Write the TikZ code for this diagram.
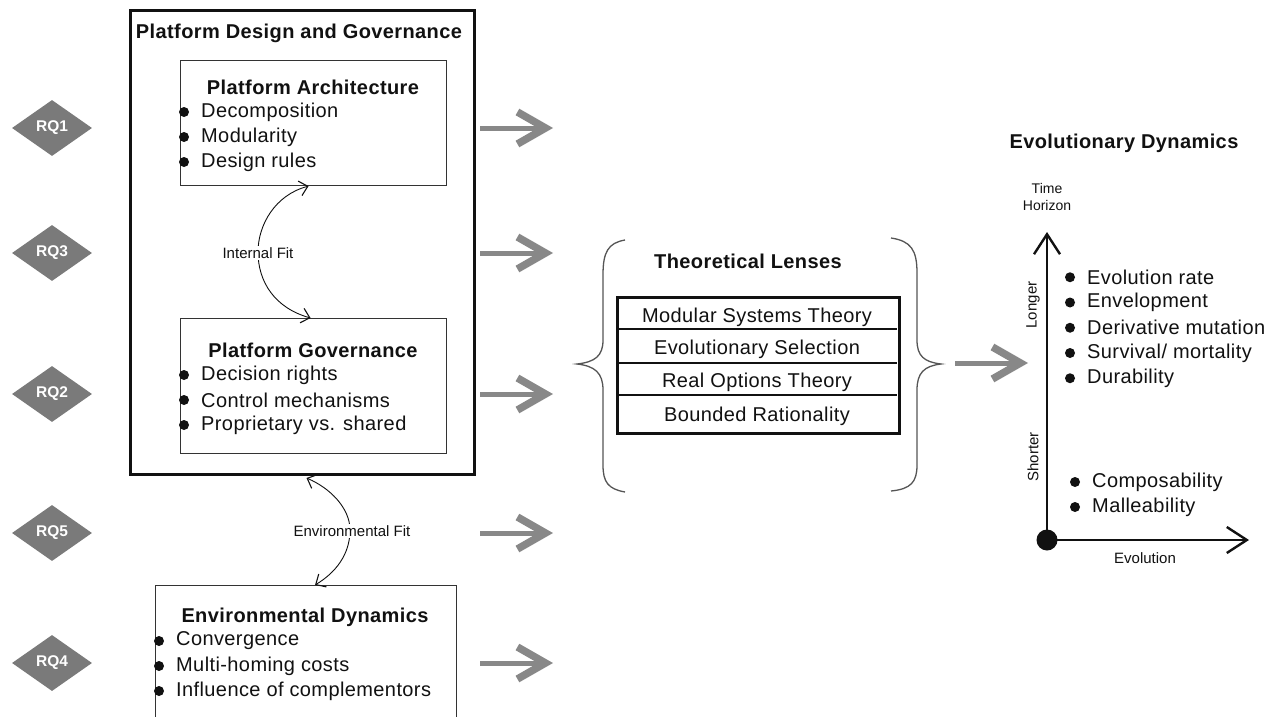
\documentclass[tikz,border=0pt]{standalone}
\usepackage{fontspec}
\setmainfont{Liberation Sans}[LetterSpace=2]
\newfontfamily\plainsf{Liberation Sans}
\usetikzlibrary{arrows.meta,shapes.geometric,calc}
\definecolor{ink}{HTML}{111111}
\definecolor{rqgray}{HTML}{7A7A7A}
\definecolor{flowgray}{HTML}{888888}
\definecolor{framegray}{HTML}{333333}
\definecolor{bracegray}{HTML}{555555}

\begin{document}
\begin{tikzpicture}[x=1pt,y=-1pt,
  body/.style={font=\fontsize{20}{24}\selectfont, text=ink, inner sep=0pt},
  head/.style={font=\fontsize{20}{24}\selectfont\bfseries, text=ink, inner sep=0pt},
  small/.style={font=\plainsf\fontsize{15}{18}\selectfont, text=ink, inner sep=1pt},
  panel/.style={draw=framegray, line width=1.1pt},
  rq/.style={shape=diamond, fill=rqgray, minimum width=80pt, minimum height=56pt,
    inner sep=0pt, text=white, font=\plainsf\bfseries\fontsize{15.5}{17}\selectfont},
  flow/.style={draw=flowgray, line width=5pt,
    -{Straight Barb[length=28pt,width=32pt,line width=7.5pt]}},
  fitarrow/.style={draw=ink, line width=0.9pt,
    {Straight Barb[length=8pt,width=15pt,line width=1.1pt]}-{Straight Barb[length=8pt,width=15pt,line width=1.1pt]}},
  axis/.style={draw=ink, line width=2pt, -{Straight Barb[length=20pt,width=26pt,line width=2.4pt]}},
  bullet/.style={circle, fill=ink, minimum size=10pt, inner sep=0pt},
]
\clip (0,0) rectangle (1271,717);
\fill[white] (0,0) rectangle (1271,717);

% ---------- platform design and governance ----------
\node[draw=ink, line width=3pt, minimum width=344pt, minimum height=464pt,
  anchor=north west] (pdg) at (129,9) {};
\node[head] (pdg-title) at (299,33) {Platform Design and Governance};

\node[panel, minimum width=266pt, minimum height=125pt, anchor=north west] (arch) at (180,60) {};
\node[head] (arch-title) at (313,87) {Platform Architecture};
\foreach \txt [count=\i] in {Decomposition, Modularity, Design rules} {
  \node[bullet] (arch-dot-\i) at (184,87+25*\i) {};
  \node[body, anchor=west] (arch-\i) at (201,87+25*\i) {\txt};
}

\node[panel, minimum width=266pt, minimum height=135pt, anchor=north west] (gov) at (180,318) {};
\node[head] (gov-title) at (313,350) {Platform Governance};
\foreach \txt [count=\i] in {Decision rights, Control mechanisms, Proprietary vs. shared} {
  \node[bullet] (gov-dot-\i) at (184,350+25*\i) {};
  \node[body, anchor=west] (gov-\i) at (201,350+25*\i) {\txt};
}

% internal fit
\draw[fitarrow] ($(arch.south)+(-5,0)$) .. controls (275,195) and (258,225) .. (258,252)
  .. controls (258,282) and (275,308) .. ($(gov.north)+(-3,0)$);
\node[small, fill=white] (ifit) at (258,253) {Internal Fit};

% ---------- environmental dynamics ----------
\node[panel, minimum width=301pt, minimum height=150pt, anchor=north west] (env) at (155,585) {};
\node[head] (env-title) at (305,617) {Environmental Dynamics};
\foreach \txt [count=\i] in {Convergence, Multi-homing costs, Influence of complementors} {
  \node[bullet] (env-dot-\i) at (159,616+25*\i) {};
  \node[body, anchor=west] (env-\i) at (176,616+25*\i) {\txt};
}

% environmental fit
\draw[fitarrow] ($(pdg.south)+(4,2)$) .. controls (330,488) and (350,508) .. (350,530)
  .. controls (350,555) and (335,573) .. ($(env.north)+(9,0)$);
\node[small, fill=white] (efit) at (352,531) {Environmental Fit};

% ---------- research questions and flows ----------
\foreach \lab/\yy in {RQ1/128, RQ3/253, RQ2/394, RQ5/533, RQ4/663} {
  \node[rq] (\lab) at (52,\yy) {\lab};
  \coordinate (\lab-from) at (480,\yy);
  \coordinate (\lab-to) at (553,\yy);
  \draw[flow] (\lab-from) -- (\lab-to);
}

% ---------- theoretical lenses ----------
\node[head] (lens-title) at (748,261) {Theoretical Lenses};
\node[draw=ink, line width=3pt, minimum width=282pt, minimum height=136pt,
  anchor=north west] (lens) at (616,296) {};
\foreach \yy in {329,363,395} {
  \draw[ink, line width=1.3pt] (617,\yy) -- (897,\yy);
}
\node[body] (lens-1) at (757,317) {Modular Systems Theory};
\node[body] (lens-2) at (757,349) {Evolutionary Selection};
\node[body] (lens-3) at (757,382) {Real Options Theory};
\node[body] (lens-4) at (757,416) {Bounded Rationality};

% braces
\draw[bracegray, line width=1.3pt] (625,240) .. controls (608,243) and (603,252) .. (603,275)
  -- (603,340) .. controls (603,356) and (595,362) .. (577,364)
  .. controls (595,366) and (603,373) .. (603,390) -- (603,465)
  .. controls (603,482) and (608,489) .. (625,492);
\draw[bracegray, line width=1.3pt] (891,238) .. controls (911,241) and (917,250) .. (917,273)
  -- (917,340) .. controls (917,356) and (924,362) .. (941,364)
  .. controls (924,366) and (917,373) .. (917,390) -- (917,465)
  .. controls (917,482) and (911,489) .. (891,491);

\coordinate (lens-out) at (955,363);
\coordinate (evo-in) at (1028,363);
\draw[flow] (lens-out) -- (evo-in);

% ---------- evolutionary dynamics ----------
\node[head] (evo-title) at (1124,143) {Evolutionary Dynamics};
\node[circle, fill=ink, minimum size=21pt, inner sep=0pt] (origin) at (1047,540) {};
\coordinate (ytip) at (1047,232);
\coordinate (xtip) at (1249,540);
\draw[axis] (origin.center) -- (ytip);
\draw[axis] (origin.center) -- (xtip);
\node[font=\plainsf\fontsize{14}{17}\selectfont, text=ink, align=center, inner sep=0pt]
  (horizon) at (1047,197) {Time\\Horizon};
\node[small, rotate=90] (longer) at (1033,305) {Longer};
\node[small, rotate=90] (shorter) at (1033,457) {Shorter};
\node[small] (evolution) at (1145,558) {Evolution};

\foreach \txt [count=\i] in {Evolution rate, Envelopment, Derivative mutation, Survival/ mortality, Durability} {
  \node[bullet] (evo-dot-\i) at (1070,252+25.25*\i) {};
  \node[body, anchor=west] (evo-\i) at (1087,252+25.25*\i) {\txt};
}
\foreach \txt [count=\i] in {Composability, Malleability} {
  \node[bullet] (short-dot-\i) at (1075,457+25*\i) {};
  \node[body, anchor=west] (short-\i) at (1092,457+25*\i) {\txt};
}
\end{tikzpicture}
\end{document}
